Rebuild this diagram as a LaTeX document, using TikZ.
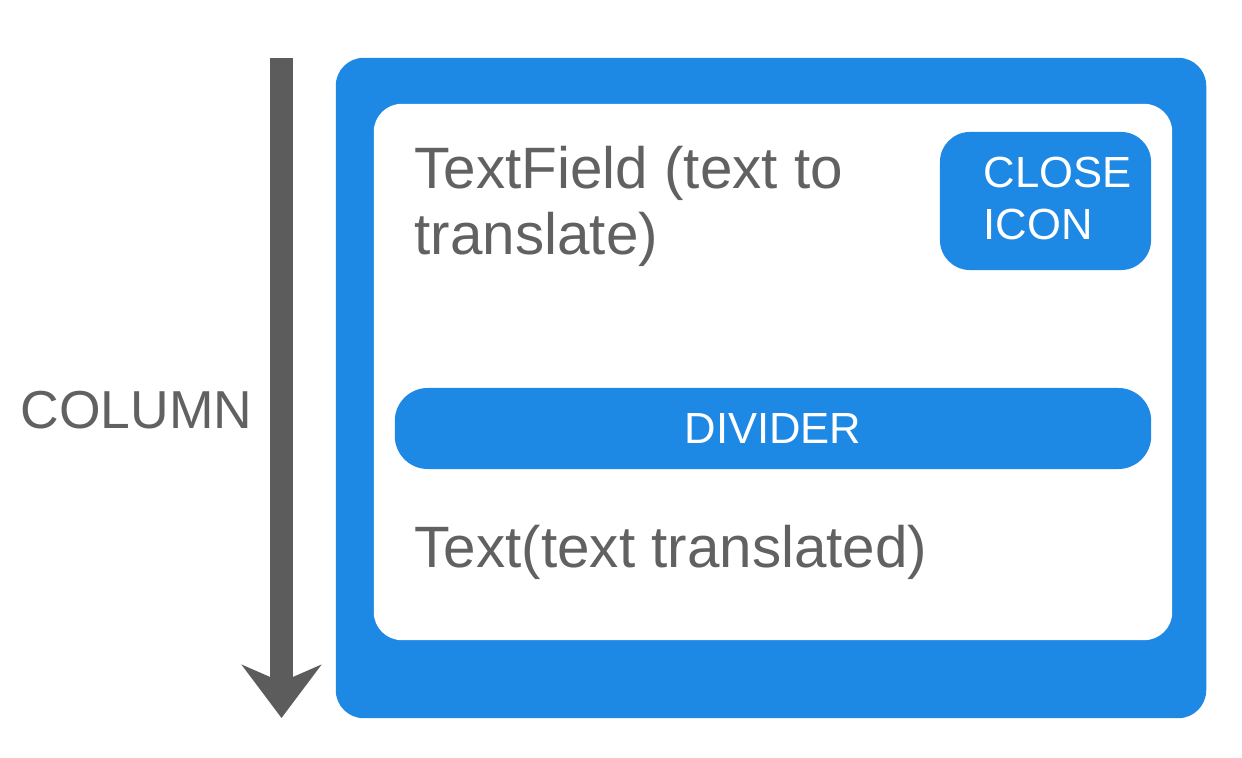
\documentclass[tikz,border=0pt]{standalone}
\usepackage{fontspec}
\setmainfont{Liberation Sans}
\usetikzlibrary{arrows.meta}
\definecolor{matblue}{HTML}{1E88E5}
\definecolor{txtgray}{HTML}{616161}
\definecolor{arrgray}{HTML}{5C5C5C}
\begin{document}
\begin{tikzpicture}[
        x=0.01cm, y=-0.01cm,
        bluebox/.style={
            rectangle, fill=matblue, draw=none, inner sep=0pt
        },
        whitebox/.style={
            rectangle, fill=white, draw=none, inner sep=0pt
        },
        bigtext/.style={
            anchor=base west, inner sep=0pt, align=left,
            text=txtgray, font=\fontsize{16.6pt}{19pt}\selectfont
        },
        btntext/.style={
            inner sep=0pt, align=left,
            text=white, font=\fontsize{12.4pt}{15pt}\selectfont
        },
        colarrow/.style={
            draw=arrgray, line width=0.23cm,
            -{Stealth[length=0.53cm, width=0.79cm, inset=0.17cm]}
        }
    ]

        % Fondo
        \fill[white] (0,0) rectangle (1242,758);
        \useasboundingbox (0,0) rectangle (1242,758);

        % Tarjeta exterior e interior
        \node[bluebox, rounded corners=0.28cm, minimum width=8.70cm, minimum height=6.60cm] (card) at (771,388) {};
        \node[whitebox, rounded corners=0.28cm, minimum width=7.98cm, minimum height=5.36cm] (panel) at (773,372) {};

        % Boton y divisor
        \node[bluebox, rounded corners=0.30cm, minimum width=2.11cm, minimum height=1.38cm] (closeicon) at (1045.5,201) {};
        \node[bluebox, rounded corners=0.33cm, minimum width=7.56cm, minimum height=0.81cm] (divider) at (773,428.5) {};

        % Textos (base = linea final)
        \node[bigtext] (input) at (414,255) {TextField (text to\\translate)};
        \node[bigtext] (output) at (414,568) {Text(text translated)};
        \node[btntext, anchor=base west] (closetext) at (983,240) {CLOSE\\ICON};
        \node[btntext, anchor=center] (dividertext) at (divider.center) {DIVIDER};
        \node[bigtext, font=\fontsize{15.2pt}{18pt}\selectfont] (collabel) at (20,429) {COLUMN};

        % Flecha de la columna
        \coordinate (coltop) at (281.5,58);
        \coordinate (colbot) at (281.5,718);
        \draw[colarrow] (coltop) -- (colbot);

    \end{tikzpicture}
\end{document}
